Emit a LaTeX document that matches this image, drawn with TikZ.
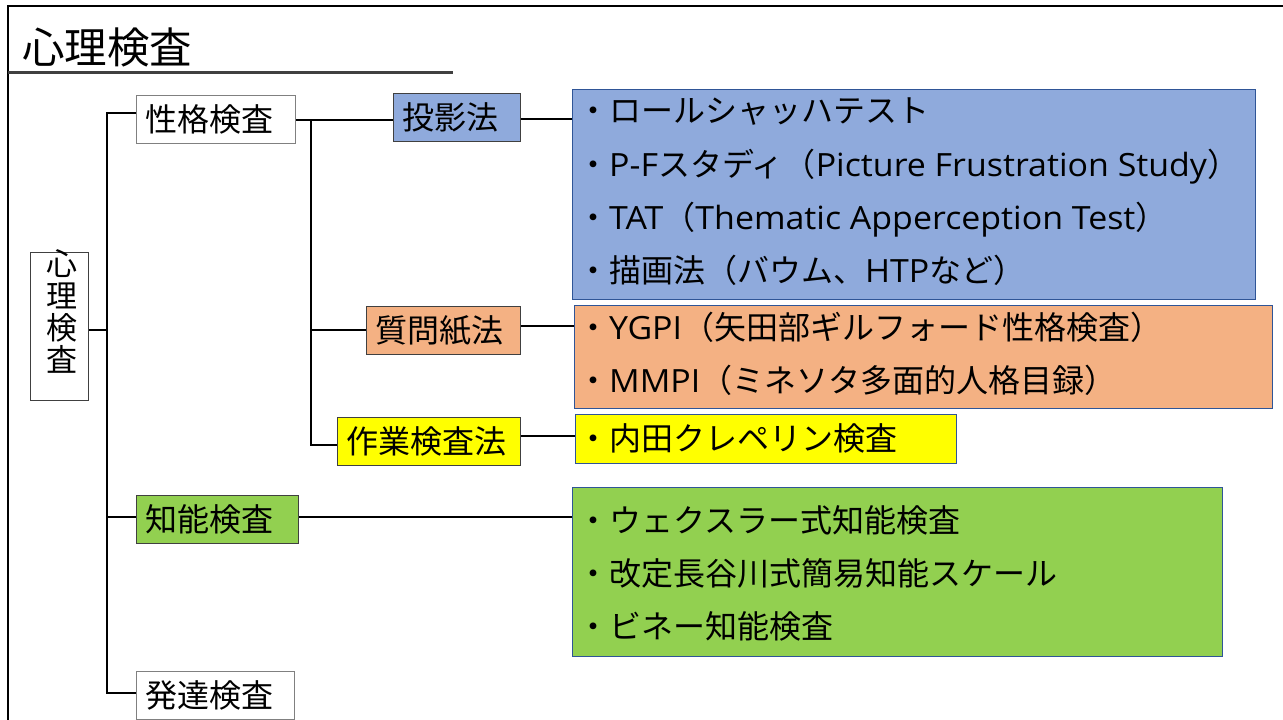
\documentclass[tikz,border=0pt]{standalone}
\usepackage{fontspec}
\setmainfont{Noto Sans CJK JP}
\newfontfamily\latfont[FakeStretch=1.06]{Open Sans}
\newcommand\lat[1]{{\latfont #1}}
\definecolor{cblue}{HTML}{8FAADC}
\definecolor{corange}{HTML}{F4B183}
\definecolor{cyellow}{HTML}{FFFF00}
\definecolor{cgreen}{HTML}{92D050}
\definecolor{lborder}{HTML}{2F5597}
\definecolor{dgray}{HTML}{404040}
\definecolor{mgray}{HTML}{808080}
\begin{document}
\begin{tikzpicture}[x=1pt,y=-1pt,
  txt/.style={font=\fontsize{32}{34}\selectfont, text height=28.16pt, text depth=3.84pt, inner sep=0pt},
  lbox/.style={txt, draw=dgray, line width=1.3pt, inner xsep=9pt, inner ysep=0pt, minimum height=48pt, align=left, anchor=north west},
  wbox/.style={lbox, draw=mgray, fill=white},
  listbox/.style={draw=lborder, line width=1.3pt, anchor=north west, inner sep=0pt},
  item/.style={txt, anchor=west},
  conn/.style={line width=1.8pt, black}]
\useasboundingbox (0,0) rectangle (1283,720);
% frame
\draw[line width=2.6pt] (8,720) -- (8,6) -- (1283,6);
\node[anchor=west, inner sep=0pt, font=\fontsize{42.5}{44}\selectfont, text height=37.4pt, text depth=5.1pt] (title) at (22,47) {心理検査};
\draw[line width=3pt, dgray] (8,72) -- (453,72);
% root
\node[draw=dgray, line width=1.2pt, minimum width=58pt, minimum height=148pt, anchor=north west, inner sep=0pt] (root) at (30,252) {};
\node[inner sep=0pt, anchor=north, align=center, font=\fontsize{31}{32}\selectfont] (roottxt) at ([xshift=2pt,yshift=3pt]root.north) {心\\理\\検\\査};
% level 1
\node[wbox, text width=141pt] (sei) at (136,95) {性格検査};
\node[lbox, fill=cgreen, text width=144pt] (chi) at (136,495) {知能検査};
\node[wbox, text width=140pt] (hat) at (136,671) {発達検査};
% level 2
\node[lbox, fill=cblue, text width=109pt] (toei) at (393,93) {投影法};
\node[lbox, fill=corange, text width=136pt] (shitsu) at (366,306) {質問紙法};
\node[lbox, fill=cyellow, text width=165pt] (sagyo) at (337,417) {作業検査法};
% list boxes
\node[listbox, fill=cblue, minimum width=683pt, minimum height=210pt] (lblue) at (572,89) {};
\node[listbox, fill=corange, minimum width=698pt, minimum height=103pt] (lorange) at (574,305) {};
\node[listbox, fill=cyellow, minimum width=381pt, minimum height=49pt] (lyellow) at (575,414) {};
\node[listbox, fill=cgreen, minimum width=650pt, minimum height=169pt] (lgreen) at (572,487) {};
% items
\node[item] (b1) at (577,110) {・ロールシャッハテスト};
\node[item] (b2) at (577,164) {・\lat{P-F}スタディ（\lat{Picture Frustration Study}）};
\node[item] (b3) at (577,217) {・\lat{TAT}（\lat{Thematic Apperception Test}）};
\node[item] (b4) at (577,270) {・描画法（バウム、\lat{HTP}など）};
\node[item] (o1) at (577,327) {・\lat{YGPI}（矢田部ギルフォード性格検査）};
\node[item] (o2) at (577,380) {・\lat{MMPI}（ミネソタ多面的人格目録）};
\node[item] (y1) at (577,438) {・内田クレペリン検査};
\node[item] (g1) at (577,520) {・ウェクスラー式知能検査};
\node[item] (g2) at (577,573) {・改定長谷川式簡易知能スケール};
\node[item] (g3) at (577,626) {・ビネー知能検査};
% connectors
\coordinate (t1) at (107,113);
\coordinate (t2) at (311,120);
\draw[conn] (root.east |- 0,330) -- (t1 |- 0,330);
\draw[conn] (sei.west |- t1) -- (t1) -- (t1 |- 0,693) -- (hat.west |- 0,693);
\draw[conn] (t1 |- 0,517) -- (chi.west |- 0,517);
\draw[conn] (sei.east |- t2) -- (toei.west |- t2);
\draw[conn] (t2) -- (t2 |- 0,445) -- (sagyo.west |- 0,445);
\draw[conn] (t2 |- 0,330) -- (shitsu.west |- 0,330);
\draw[conn] (toei.east |- 0,119) -- (lblue.west |- 0,119);
\draw[conn] (shitsu.east |- 0,326) -- (lorange.west |- 0,326);
\draw[conn] (sagyo.east |- 0,436) -- (lyellow.west |- 0,436);
\draw[conn] (chi.east |- 0,517) -- (lgreen.west |- 0,517);
\end{tikzpicture}
\end{document}
